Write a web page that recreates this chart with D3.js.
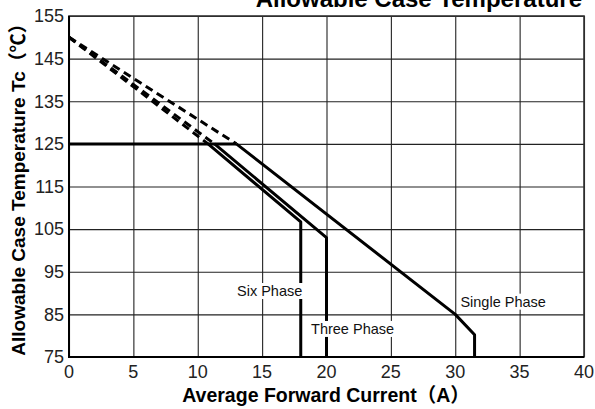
<!DOCTYPE html>
<html>
<head>
<meta charset="utf-8">
<style>
  body { margin: 0; background: #fff; }
  svg { display: block; font-family: "Liberation Sans", "Noto Sans CJK JP", sans-serif; }
</style>
</head>
<body>
<svg id="chart" width="595" height="409"></svg>
<script src="https://d3js.org/d3.v7.min.js"></script>
<script>

// axis ticks
var xTicks = [0, 5, 10, 15, 20, 25, 30, 35, 40];
var yTicks = [75, 85, 95, 105, 115, 125, 135, 145, 155];

// derating curves: current (A) vs case temperature (C)
// first two points are the dashed part, the rest is solid
var sixCurrent = [0, 10.8, 18, 18];
var sixTemp = [150, 125, 106.7, 75];

var threeCurrent = [0, 11.3, 20, 20];
var threeTemp = [150, 125, 103, 75];

var singleCurrent = [0, 13, 30, 31.5, 31.5];
var singleTemp = [150, 125, 85, 80.2, 75];

// flat limit at 125 C
var limitCurrent = [0, 13];
var limitTemp = [125, 125];

var labels = ["Six Phase", "Three Phase", "Single Phase"];
var labelCurrent = [13.05, 18.8, 30.4];
var labelTemp = [90.5, 81.6, 88];

var svg = d3.select("#chart");
var margin = {left: 69, right: 11, top: 16, bottom: 52};
var width = +svg.attr("width"), height = +svg.attr("height");

var x = d3.scaleLinear().domain([0, 40]).range([margin.left, width - margin.right]);
var y = d3.scaleLinear().domain([75, 155]).range([height - margin.bottom, margin.top]);

// grid
svg.append("g")
    .attr("transform", "translate(0," + (height - margin.bottom) + ")")
    .call(d3.axisBottom(x).tickValues(xTicks).tickSize(-(height - margin.top - margin.bottom)).tickFormat(""))
    .call(function(g) {
      g.select(".domain").remove();
      g.selectAll("line").attr("stroke", "#222").attr("stroke-width", 1.1);
    });

svg.append("g")
    .attr("transform", "translate(" + margin.left + ",0)")
    .call(d3.axisLeft(y).tickValues(yTicks).tickSize(-(width - margin.left - margin.right)).tickFormat(""))
    .call(function(g) {
      g.select(".domain").remove();
      g.selectAll("line").attr("stroke", "#222").attr("stroke-width", 1.1);
    });

// frame
svg.append("rect")
    .attr("x", x(0)).attr("y", y(155))
    .attr("width", x(40) - x(0)).attr("height", y(75) - y(155))
    .attr("fill", "none").attr("stroke", "#333").attr("stroke-width", 1.6);
svg.append("path")
    .attr("d", "M" + x(0) + "," + y(155) + "V" + y(75) + "H" + x(40))
    .attr("fill", "none").attr("stroke", "#000").attr("stroke-width", 2);

// tick labels
svg.append("g").selectAll("text")
  .data(xTicks).enter().append("text")
    .attr("x", function(d) { return x(d); })
    .attr("y", y(75) + 21)
    .attr("text-anchor", "middle")
    .attr("font-size", 18)
    .attr("fill", "#222")
    .text(function(d) { return d; });

svg.append("g").selectAll("text")
  .data(yTicks).enter().append("text")
    .attr("x", x(0) - 5)
    .attr("y", function(d) { return y(d); })
    .attr("dy", "0.35em")
    .attr("text-anchor", "end")
    .attr("font-size", 18)
    .attr("fill", "#222")
    .text(function(d) { return d; });

// curves
var line = d3.line().x(function(d) { return x(d[0]); }).y(function(d) { return y(d[1]); });

function drawCurve(cur, temp) {
  var pts = d3.zip(cur, temp);
  svg.append("path")
      .attr("d", line(pts.slice(0, 2)))
      .attr("fill", "none").attr("stroke", "#000").attr("stroke-width", 3)
      .attr("stroke-dasharray", "8,5");
  svg.append("path")
      .attr("d", line(pts.slice(1)))
      .attr("fill", "none").attr("stroke", "#000").attr("stroke-width", 3)
      .attr("stroke-linejoin", "round");
}

drawCurve(sixCurrent, sixTemp);
drawCurve(threeCurrent, threeTemp);
drawCurve(singleCurrent, singleTemp);

svg.append("path")
    .attr("d", line(d3.zip(limitCurrent, limitTemp)))
    .attr("fill", "none").attr("stroke", "#000").attr("stroke-width", 3);

// curve labels on white boxes
labels.forEach(function(t, i) {
  var g = svg.append("g");
  var txt = g.append("text")
      .attr("x", x(labelCurrent[i]))
      .attr("y", y(labelTemp[i]))
      .attr("dy", "0.35em")
      .attr("font-size", 14.5)
      .attr("fill", "#111")
      .text(t);
  var b = txt.node().getBBox();
  g.insert("rect", "text")
      .attr("x", b.x - 2).attr("y", b.y)
      .attr("width", b.width + 4).attr("height", b.height)
      .attr("fill", "#fff");
});

// titles
svg.append("text")
    .attr("x", 582).attr("y", 7)
    .attr("text-anchor", "end")
    .attr("font-size", 24).attr("font-weight", "bold")
    .text("Allowable Case Temperature");

svg.append("text")
    .attr("x", 326).attr("y", 402)
    .attr("text-anchor", "middle")
    .attr("font-size", 19.5).attr("font-weight", "bold")
    .text("Average Forward Current（A）");

svg.append("text")
    .attr("transform", "translate(25," + 185 + ") rotate(-90)")
    .attr("text-anchor", "middle")
    .attr("font-size", 19).attr("font-weight", "bold")
    .text("Allowable Case Temperature Tc（℃）");

</script>
</body>
</html>
